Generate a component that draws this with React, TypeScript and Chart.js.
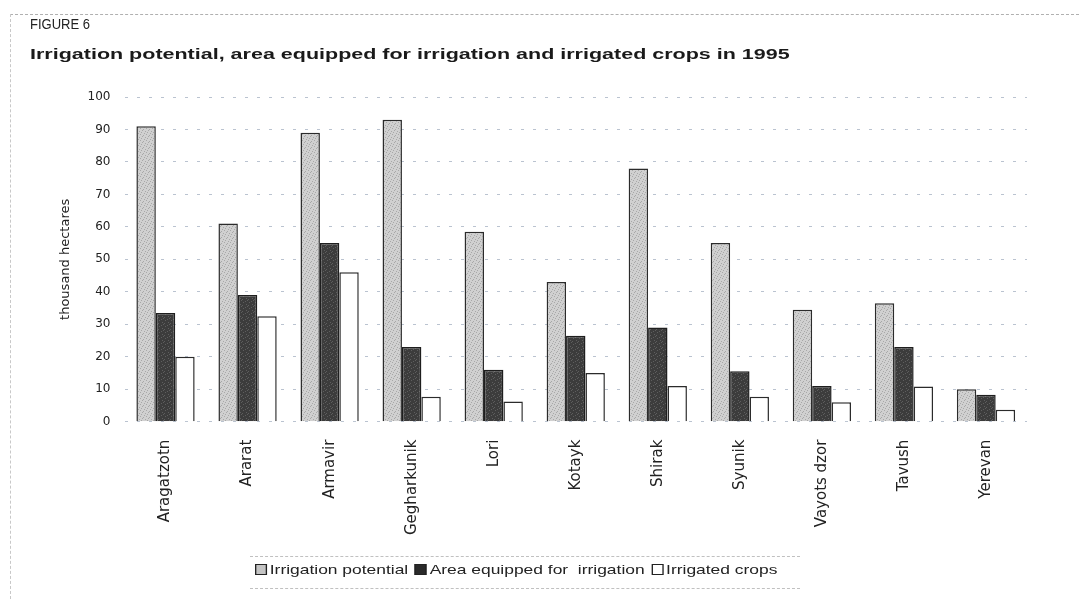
import React, { useEffect, useRef } from "react";
import { Chart, registerables } from "chart.js";

Chart.register(...registerables);

const categories = [
  "Aragatzotn",
  "Ararat",
  "Armavir",
  "Gegharkunik",
  "Lori",
  "Kotayk",
  "Shirak",
  "Syunik",
  "Vayots dzor",
  "Tavush",
  "Yerevan",
];
const irrigationPotential = [91, 61, 89, 93, 58.5, 43, 78, 55, 34.5, 36.5, 10];
const areaEquipped = [33.5, 39, 55, 23, 16, 26.5, 29, 15.5, 11, 23, 8.3];
const irrigatedCrops = [20, 32.5, 46, 7.7, 6.2, 15, 11, 7.7, 6, 10.8, 3.7];
const yTickValues = [0, 10, 20, 30, 40, 50, 60, 70, 80, 90, 100];

const seriesNames = [
  "Irrigation potential",
  "Area equipped for  irrigation",
  "Irrigated crops",
];

function makePattern(base: string, dot: string, dots: number[][]) {
  const c = document.createElement("canvas");
  c.width = 6;
  c.height = 6;
  const g = c.getContext("2d")!;
  g.fillStyle = base;
  g.fillRect(0, 0, 6, 6);
  g.fillStyle = dot;
  dots.forEach(([x, y]) => g.fillRect(x, y, 1, 1));
  return g.createPattern(c, "repeat") as CanvasPattern;
}

const TEXT_FONT = "'Liberation Sans', Arial, sans-serif";

export default function App() {
  const canvasRef = useRef<HTMLCanvasElement | null>(null);

  useEffect(() => {
    if (!canvasRef.current) return;
    const lightPat = makePattern("#d0d0d0", "#a8a8a8", [
      [0, 0], [3, 1], [5, 3], [1, 4], [4, 5], [2, 2],
    ]);
    const darkPat = makePattern("#3c3c3c", "#5e5e5e", [
      [1, 0], [4, 2], [0, 3], [3, 5], [5, 4],
    ]);
    const chart = new Chart(canvasRef.current, {
      type: "bar",
      data: {
        labels: categories,
        datasets: [
          {
            label: seriesNames[0],
            data: irrigationPotential,
            backgroundColor: lightPat,
            borderColor: "#2b2b2b",
            borderWidth: 1.5,
          },
          {
            label: seriesNames[1],
            data: areaEquipped,
            backgroundColor: darkPat,
            borderColor: "#1e1e1e",
            borderWidth: 1.5,
          },
          {
            label: seriesNames[2],
            data: irrigatedCrops,
            backgroundColor: "#ffffff",
            borderColor: "#2b2b2b",
            borderWidth: 1.5,
          },
        ],
      },
      options: {
        animation: false,
        responsive: true,
        maintainAspectRatio: false,
        layout: { padding: { left: 46, right: 52, top: 89, bottom: 56 } },
        datasets: {
          bar: { categoryPercentage: 0.71, barPercentage: 1.0 },
        },
        plugins: {
          legend: { display: false },
          title: { display: false },
          tooltip: { enabled: false },
        },
        scales: {
          x: {
            grid: { display: false },
            border: { display: false },
            ticks: {
              minRotation: 90,
              maxRotation: 90,
              padding: 10,
              color: "#222",
              font: { family: "'DejaVu Sans', sans-serif", size: 15 },
            },
          },
          y: {
            min: 0,
            max: 100,
            afterBuildTicks: (axis: any) => {
              axis.ticks = yTickValues.map((v) => ({ value: v }));
            },
            grid: {
              color: "rgba(130,145,170,0.55)",
              lineWidth: 1,
              drawTicks: false,
            },
            border: { display: false, dash: [3, 9] },
            ticks: {
              padding: 14,
              color: "#222",
              font: { family: "'DejaVu Sans', sans-serif", size: 12 },
            },
            title: {
              display: true,
              text: "thousand hectares",
              color: "#222",
              padding: { top: 4, bottom: 0 },
              font: { family: "'DejaVu Sans', sans-serif", size: 13 },
            },
          },
        },
      },
    });
    (chart.options.scales as any).y.grid.borderDash = [3, 9];
    (chart.options.scales as any).y.border.dash = [3, 9];
    chart.update();
    return () => chart.destroy();
  }, []);

  const legendItems = [
    { name: seriesNames[0], fill: "#c4c4c4" },
    { name: seriesNames[1], fill: "#2a2a2a" },
    { name: seriesNames[2], fill: "#ffffff" },
  ];

  return (
    <div style={{ position: "relative", width: 1071, height: 593 }}>
      <canvas ref={canvasRef} />
      <div
        style={{
          position: "absolute",
          left: 2,
          top: 6,
          width: 1069,
          borderTop: "1px dashed #b0b0b0",
        }}
      />
      <div
        style={{
          position: "absolute",
          left: 2,
          top: 6,
          height: 585,
          borderLeft: "1px dashed #c8c8c8",
        }}
      />
      <div
        style={{
          position: "absolute",
          left: 22,
          top: 8,
          fontFamily: TEXT_FONT,
          fontSize: 14,
          color: "#222",
          transform: "scaleX(0.93)",
          transformOrigin: "left center",
          whiteSpace: "nowrap",
        }}
      >
        FIGURE 6
      </div>
      <div
        style={{
          position: "absolute",
          left: 22,
          top: 37,
          fontFamily: TEXT_FONT,
          fontSize: 15,
          fontWeight: "bold",
          color: "#1a1a1a",
          transform: "scaleX(1.433)",
          transformOrigin: "left center",
          whiteSpace: "nowrap",
        }}
      >
        Irrigation potential, area equipped for irrigation and irrigated crops in 1995
      </div>
      <div
        style={{
          position: "absolute",
          left: 242,
          top: 548,
          width: 550,
          borderTop: "1px dashed #c0c0c0",
        }}
      />
      <div
        style={{
          position: "absolute",
          left: 242,
          top: 580,
          width: 550,
          borderTop: "1px dashed #c0c0c0",
        }}
      />
      <div
        style={{
          position: "absolute",
          left: 247,
          top: 554,
          display: "flex",
          alignItems: "center",
          fontFamily: TEXT_FONT,
          fontSize: 13,
          color: "#222",
          transform: "scaleX(1.34)",
          transformOrigin: "left center",
          whiteSpace: "nowrap",
        }}
      >
        {legendItems.map((it, i) => (
          <span
            key={i}
            style={{ display: "flex", alignItems: "center", marginRight: 5 }}
          >
            <span
              style={{
                display: "inline-block",
                width: 7,
                height: 9,
                background: it.fill,
                border: "1px solid #222",
                marginRight: 2,
              }}
            />
            <span style={{ whiteSpace: "pre" }}>{it.name}</span>
          </span>
        ))}
      </div>
    </div>
  );
}
